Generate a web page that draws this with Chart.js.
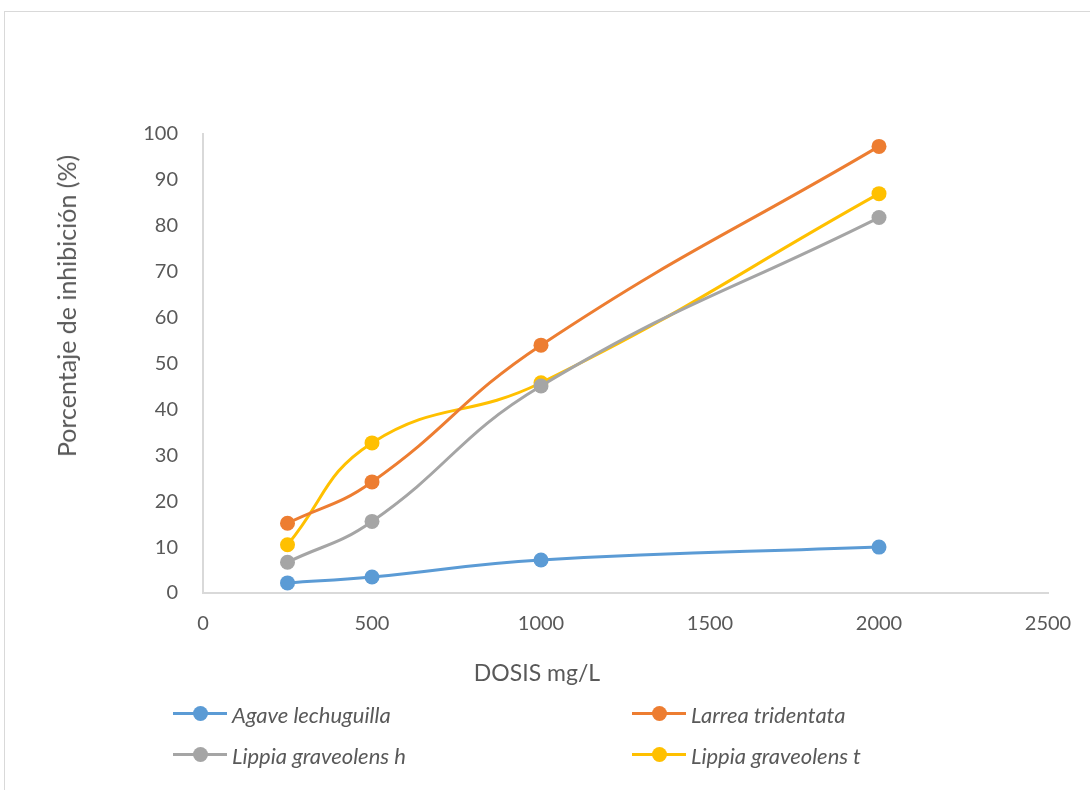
<!DOCTYPE html>
<html>
<head>
<meta charset="utf-8">
<script src="https://cdn.jsdelivr.net/npm/chart.js@4.4.1/dist/chart.umd.min.js"></script>
<style>
  body { margin: 0; background: #fff; }
  #frame { position: absolute; left: 4px; top: 11px; width: 1100px; height: 800px; border: 1px solid #d9d9d9; }
  #wrap { position: absolute; left: 0; top: 0; width: 1090px; height: 790px; }
  .txt { position: absolute; font-family: Lato, "Open Sans", sans-serif; color: #595959; white-space: nowrap; }
  .ytitle { font-size: 25px; transform: translate(-50%, -50%) rotate(-90deg); }
  .xtitle { font-size: 23px; transform: translate(-50%, -50%); }
  .item { position: absolute; height: 26px; display: flex; align-items: center; font-style: italic; font-size: 22px; }
  .mk { position: relative; width: 54px; height: 16px; margin-right: 5px; }
  .mk .ln { position: absolute; left: 0; right: 0; top: 6px; height: 3px; }
  .mk .dt { position: absolute; left: 20px; top: 0px; width: 15px; height: 15px; border-radius: 50%; }
</style>
</head>
<body>
<div id="frame"></div>
<div id="wrap"><canvas id="Chart" width="1090" height="790"></canvas></div>
<div id="labels"></div>
<script>
const dosis = [250, 500, 1000, 2000];
const xTicks = [0, 500, 1000, 1500, 2000, 2500];
const agave = [2.2, 3.5, 7.2, 10.0];
const larrea = [15.2, 24.2, 54.0, 97.3];
const lippiaH = [6.7, 15.6, 45.1, 81.8];
const lippiaT = [10.5, 32.7, 45.8, 87.0];
const names = ["Agave lechuguilla", "Larrea tridentata", "Lippia graveolens h", "Lippia graveolens t"];
const colors = ["#5B9BD5", "#ED7D31", "#A5A5A5", "#FFC000"];
const series = [agave, larrea, lippiaH, lippiaT];
const xTitle = "DOSIS mg/L";
const yTitle = "Porcentaje de inhibición (%)";

const font = "Lato, 'Open Sans', sans-serif";

const datasets = series.map((vals, i) => ({
  label: names[i],
  data: vals.map((v, j) => ({ x: dosis[j], y: v })),
  borderColor: colors[i],
  backgroundColor: colors[i],
  borderWidth: 3,
  pointRadius: 7.5,
  pointBorderWidth: 0,
  showLine: true,
  tension: 0.45,
}));

const ctx = document.getElementById("Chart").getContext("2d");
new Chart(ctx, {
  type: "scatter",
  data: { datasets: datasets },
  options: {
    responsive: false,
    animation: false,
    layout: { padding: { left: 0, top: 134, right: 42, bottom: 97 } },
    plugins: { legend: { display: false }, tooltip: { enabled: false } },
    scales: {
      x: {
        type: "linear",
        min: xTicks[0],
        max: xTicks[xTicks.length - 1],
        afterBuildTicks: (s) => { s.ticks = xTicks.map((v) => ({ value: v })); },
        ticks: { color: "#595959", font: { family: font, size: 20 }, padding: 11, callback: (v) => String(v) },
        grid: { display: false },
        border: { display: true, color: "#d9d9d9", width: 2 },
        afterFit: (s) => { s.height = 100; },
      },
      y: {
        min: 0,
        max: 100,
        ticks: { stepSize: 10, color: "#595959", font: { family: font, size: 20 }, padding: 17 },
        grid: { display: false },
        border: { display: true, color: "#d9d9d9", width: 2 },
        afterFit: (s) => { s.width = 203; },
      },
    },
  },
});

// axis titles and legend (two columns, like the original)
const labels = document.getElementById("labels");
function addText(cls, text, x, y) {
  const el = document.createElement("div");
  el.className = "txt " + cls;
  el.textContent = text;
  el.style.left = x + "px";
  el.style.top = y + "px";
  labels.appendChild(el);
  return el;
}
addText("ytitle", yTitle, 66, 306);
addText("xtitle", xTitle, 537, 672);

const legendPos = [[173, 714], [632, 714], [173, 755], [632, 755]];
names.forEach((n, i) => {
  const el = addText("item", "", legendPos[i][0], legendPos[i][1] - 13);
  el.innerHTML = `<span class="mk"><span class="ln" style="background:${colors[i]}"></span><span class="dt" style="background:${colors[i]}"></span></span><span>${n}</span>`;
});
</script>
</body>
</html>
